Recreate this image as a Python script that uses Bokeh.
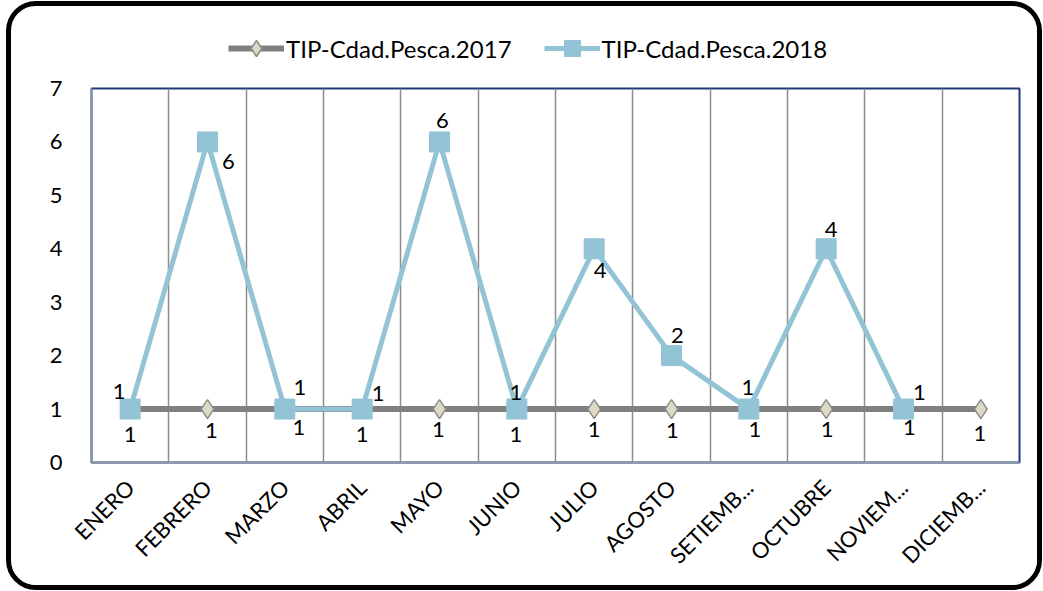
import math
from bokeh.plotting import figure
from bokeh.layouts import column
from bokeh.models import ColumnDataSource, FixedTicker, Legend, LegendItem, LabelSet
from bokeh.core.properties import value
from bokeh.embed import file_html
from bokeh.resources import INLINE

months = ["ENERO", "FEBRERO", "MARZO", "ABRIL", "MAYO", "JUNIO", "JULIO",
          "AGOSTO", "SETIEMB...", "OCTUBRE", "NOVIEM...", "DICIEMB..."]
tip_2017 = [1, 1, 1, 1, 1, 1, 1, 1, 1, 1, 1, 1]
tip_2018 = [1, 6, 1, 1, 6, 1, 4, 2, 1, 4, 1, float("nan")]
series_names = ["TIP-Cdad.Pesca.2017", "TIP-Cdad.Pesca.2018"]
y_ticks = [0, 1, 2, 3, 4, 5, 6, 7]

# label offsets (style, screen px)
dx17 = [0, 4, 14, 0, -1, -1, 0, 1, 6, 1, 6, -1]
dy17 = [-25, -21, -18, -25, -20, -25, -20, -21, -20, -20, -18, -24]
dx18 = [-11, 21, 15, 16, 3, -1, 6, 6, -1, 5, 16, 0]
dy18 = [18, -20, 22, 16, 21, 17, -22, 20, 22, 19, 17, 0]

FONT = "Lato"
C17_LINE, C17_FILL, C17_EDGE = "#808080", "#DDD9C3", "#8C8C8C"
C18 = "#93C4D6"
xs = [i + 0.5 for i in range(len(months))]

src17 = ColumnDataSource(dict(x=xs, y=tip_2017, t=[str(v) for v in tip_2017], dx=dx17, dy=dy17))
m18 = [not math.isnan(v) for v in tip_2018]
src18 = ColumnDataSource(dict(x=[x for x, k in zip(xs, m18) if k],
                              y=[v for v, k in zip(tip_2018, m18) if k],
                              t=[str(int(v)) for v, k in zip(tip_2018, m18) if k],
                              dx=[d for d, k in zip(dx18, m18) if k],
                              dy=[d for d, k in zip(dy18, m18) if k]))


def draw_series(fig):
    r = []
    r.append(fig.line("x", "y", source=src17, line_color=C17_LINE, line_width=6))
    r.append(fig.scatter("x", "y", source=src17, marker="diamond", size=19,
                         fill_color=C17_FILL, line_color=C17_EDGE, line_width=1.5))
    r.append(fig.line("x", "y", source=src18, line_color=C18, line_width=5))
    r.append(fig.scatter("x", "y", source=src18, marker="square", size=20,
                         fill_color=C18, line_color=C18))
    return r


# ---- legend strip (series drawn out of view; only the legend shows) ----
lf = figure(width=1026, height=64, output_backend="svg", toolbar_location=None,
            x_range=(100, 101), y_range=(100, 101), x_axis_location=None, y_axis_location=None,
            min_border=0)
lf.outline_line_color = None
lf.grid.grid_line_color = None
lr = draw_series(lf)
legend = Legend(items=[LegendItem(label=series_names[0], renderers=[lr[0], lr[1]]),
                       LegendItem(label=series_names[1], renderers=[lr[2], lr[3]])],
                location=(137, 2), orientation="horizontal",
                glyph_width=56, glyph_height=40, label_standoff=2, spacing=32,
                padding=0, margin=0, border_line_color=None, background_fill_alpha=0,
                label_text_font=FONT, label_text_font_size="24px", label_text_color="black")
lf.add_layout(legend, "center")

# ---- main plot ----
p = figure(width=1026, height=515, output_backend="svg", toolbar_location=None,
           x_range=(0, 12), y_range=(0, 7),
           min_border_left=80, min_border_right=18, min_border_top=18, min_border_bottom=123)

p.outline_line_color = "#1F3A78"
p.outline_line_width = 2

p.ygrid.grid_line_color = None
p.xgrid.ticker = FixedTicker(ticks=list(range(1, 12)))
p.xgrid.grid_line_color = "#8C8C8C"
p.xgrid.grid_line_width = 1.5

p.xaxis.ticker = FixedTicker(ticks=xs)
p.xaxis.major_label_overrides = {x: m for x, m in zip(xs, months)}
p.xaxis.major_label_orientation = math.pi / 4
p.yaxis.ticker = FixedTicker(ticks=y_ticks)
for ax in (p.xaxis[0], p.yaxis[0]):
    ax.axis_line_color = "#8D97A5"
    ax.axis_line_width = 2
    ax.major_tick_line_color = None
    ax.minor_tick_line_color = None
    ax.major_label_text_font = FONT
    ax.major_label_text_font_size = "22px"
    ax.major_label_text_color = "black"
p.yaxis.major_label_standoff = 23
p.xaxis.major_label_standoff = 15

draw_series(p)

for src in (src17, src18):
    p.add_layout(LabelSet(x="x", y="y", text="t", source=src, x_offset="dx", y_offset="dy",
                          text_align="center", text_baseline="middle",
                          text_font=value(FONT), text_font_size="22px", text_color="black"))

layout = column(lf, p, spacing=0)
layout.styles = {"border": "5px solid black", "border-radius": "30px",
                 "margin-left": "6px", "margin-top": "1px", "overflow": "hidden"}

open("out.html", "w").write(file_html(layout, INLINE))
